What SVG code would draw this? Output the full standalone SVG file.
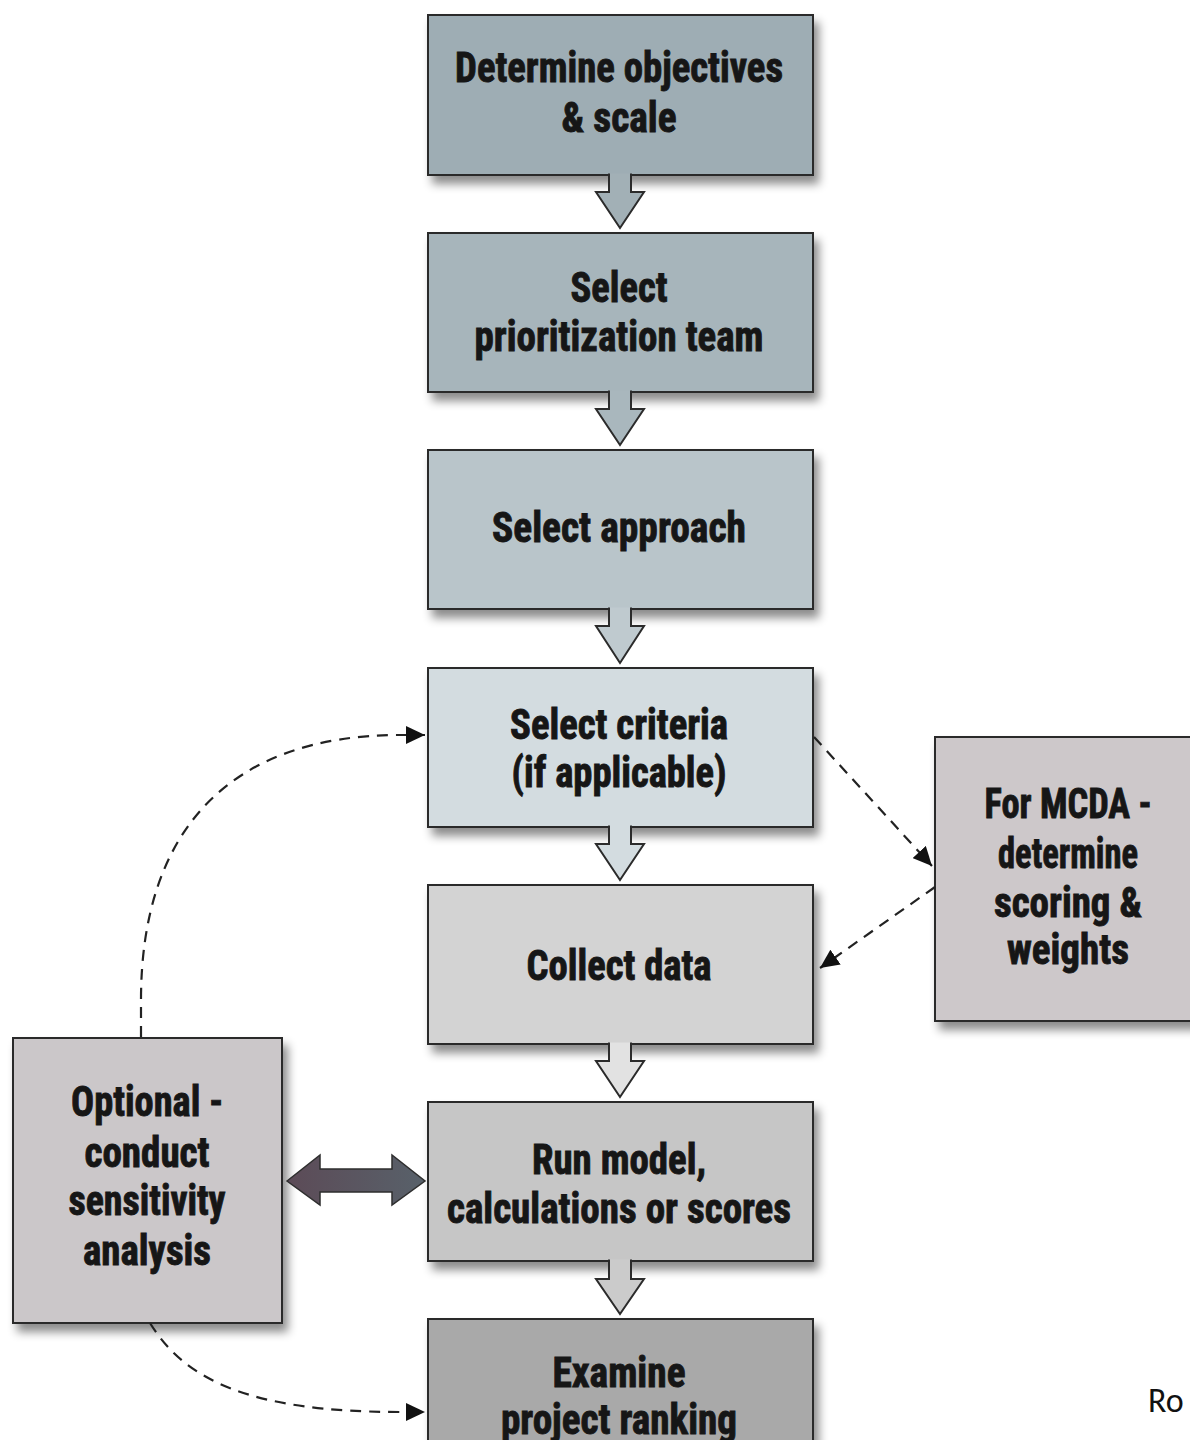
<svg xmlns="http://www.w3.org/2000/svg" width="1190" height="1440" viewBox="0 0 1190 1440">
  <style>
    .box { stroke: #2b2b2b; stroke-width: 2; }
    .label { font-family: "Liberation Sans Narrow", "Roboto Condensed", "DejaVu Sans Condensed", "Liberation Sans", Arial, sans-serif; font-weight: bold; font-size: 42px; fill: #161616; stroke: #161616; stroke-width: 0.9px; text-anchor: middle; }
    .flow { stroke: #2b2b2b; stroke-width: 2; stroke-linejoin: miter; }
    .dash { fill: none; stroke: #222; stroke-width: 2.2; stroke-dasharray: 11 8; }
  </style>
  <defs>
    <filter id="shadow" x="-10%" y="-10%" width="125%" height="130%">
      <feDropShadow dx="5" dy="8" stdDeviation="5" flood-color="#000" flood-opacity="0.45"/>
    </filter>
    <marker id="tip" markerUnits="userSpaceOnUse" markerWidth="20" markerHeight="18" refX="19" refY="9" orient="auto">
      <path d="M0,0 L19,9 L0,18 z" fill="#111"/>
    </marker>
    <linearGradient id="dbl" x1="0" y1="0" x2="1" y2="0">
      <stop offset="0" stop-color="#5c4b57"/>
      <stop offset="1" stop-color="#58616a"/>
    </linearGradient>
  </defs>

  <rect width="1190" height="1440" fill="#ffffff"/>

  <!-- main column of steps -->
  <g id="n1">
    <rect class="box" x="428" y="15" width="385" height="160" fill="#9eadb4" filter="url(#shadow)"/>
    <text class="label" x="619" y="82" textLength="328" lengthAdjust="spacingAndGlyphs">Determine objectives</text>
    <text class="label" x="619" y="132" textLength="115" lengthAdjust="spacingAndGlyphs">&amp; scale</text>
  </g>
  <g id="n2">
    <rect class="box" x="428" y="233" width="385" height="159" fill="#a7b5bb" filter="url(#shadow)"/>
    <text class="label" x="619" y="302" textLength="97" lengthAdjust="spacingAndGlyphs">Select</text>
    <text class="label" x="619" y="351" textLength="289" lengthAdjust="spacingAndGlyphs">prioritization team</text>
  </g>
  <g id="n3">
    <rect class="box" x="428" y="450" width="385" height="159" fill="#b9c5ca" filter="url(#shadow)"/>
    <text class="label" x="619" y="542" textLength="254" lengthAdjust="spacingAndGlyphs">Select approach</text>
  </g>
  <g id="n4">
    <rect class="box" x="428" y="668" width="385" height="159" fill="#d3dce0" filter="url(#shadow)"/>
    <text class="label" x="619" y="739" textLength="218" lengthAdjust="spacingAndGlyphs">Select criteria</text>
    <text class="label" x="619" y="787" textLength="215" lengthAdjust="spacingAndGlyphs">(if applicable)</text>
  </g>
  <g id="n5">
    <rect class="box" x="428" y="885" width="385" height="159" fill="#d3d3d3" filter="url(#shadow)"/>
    <text class="label" x="619" y="980" textLength="185" lengthAdjust="spacingAndGlyphs">Collect data</text>
  </g>
  <g id="n6">
    <rect class="box" x="428" y="1102" width="385" height="159" fill="#c6c6c6" filter="url(#shadow)"/>
    <text class="label" x="619" y="1174" textLength="174" lengthAdjust="spacingAndGlyphs">Run model,</text>
    <text class="label" x="619" y="1223" textLength="344" lengthAdjust="spacingAndGlyphs">calculations or scores</text>
  </g>
  <g id="n7">
    <rect class="box" x="428" y="1319" width="385" height="160" fill="#a9a9a9" filter="url(#shadow)"/>
    <text class="label" x="619" y="1387" textLength="133" lengthAdjust="spacingAndGlyphs">Examine</text>
    <text class="label" x="619" y="1434" textLength="236" lengthAdjust="spacingAndGlyphs">project ranking</text>
  </g>

  <!-- side steps -->
  <g id="mcda">
    <rect class="box" x="935" y="737" width="270" height="284" fill="#cdc8ca" filter="url(#shadow)"/>
    <text class="label" x="1068" y="818" textLength="167" lengthAdjust="spacingAndGlyphs">For MCDA -</text>
    <text class="label" x="1068" y="868" textLength="140" lengthAdjust="spacingAndGlyphs">determine</text>
    <text class="label" x="1068" y="917" textLength="148" lengthAdjust="spacingAndGlyphs">scoring &amp;</text>
    <text class="label" x="1068" y="964" textLength="122" lengthAdjust="spacingAndGlyphs">weights</text>
  </g>
  <g id="sensitivity">
    <rect class="box" x="13" y="1038" width="269" height="285" fill="#cbc7c9" filter="url(#shadow)"/>
    <text class="label" x="147" y="1116" textLength="152" lengthAdjust="spacingAndGlyphs">Optional -</text>
    <text class="label" x="147" y="1167" textLength="125" lengthAdjust="spacingAndGlyphs">conduct</text>
    <text class="label" x="147" y="1215" textLength="157" lengthAdjust="spacingAndGlyphs">sensitivity</text>
    <text class="label" x="147" y="1265" textLength="128" lengthAdjust="spacingAndGlyphs">analysis</text>
  </g>

  <g id="connectors">
    <!-- hollow block arrows between consecutive steps -->
    <path class="flow" fill="#a2b0b6" d="M609,173.5 L609,192 L596,192 L620,228 L644,192 L631,192 L631,173.5"/>
    <path class="flow" fill="#a9b7bd" d="M609,390.5 L609,409 L596,409 L620,445 L644,409 L631,409 L631,390.5"/>
    <path class="flow" fill="#bfcacf" d="M609,607.5 L609,626 L596,626 L620,663 L644,626 L631,626 L631,607.5"/>
    <path class="flow" fill="#d3dce0" d="M609,825.5 L609,844 L596,844 L620,880 L644,844 L631,844 L631,825.5"/>
    <path class="flow" fill="#e2e2e2" d="M609,1042.5 L609,1061 L596,1061 L620,1097 L644,1061 L631,1061 L631,1042.5"/>
    <path class="flow" fill="#cbcbcb" d="M609,1259.5 L609,1279 L596,1279 L620,1314 L644,1279 L631,1279 L631,1259.5"/>

    <!-- dashed feedback links -->
    <path class="dash" d="M141,1037 L141,1000 C141,830 230,735 400,735 L425,735" marker-end="url(#tip)"/>
    <path class="dash" d="M814,737 L932,866" marker-end="url(#tip)"/>
    <path class="dash" d="M935,887 L820,968" marker-end="url(#tip)"/>
    <path class="dash" d="M150,1323 C185,1380 250,1412 400,1412 L425,1412" marker-end="url(#tip)"/>

    <!-- two-way arrow -->
    <path d="M287,1181 L320,1155 L320,1169 L392,1169 L392,1155 L425,1181 L392,1205 L392,1192 L320,1192 L320,1205 Z" fill="url(#dbl)" stroke="#2e2e2e" stroke-width="1.5"/>
  </g>

  <text x="1148" y="1412" font-family="Carlito, 'Liberation Sans', Arial, sans-serif" font-size="34" fill="#111">Ro</text>
</svg>
